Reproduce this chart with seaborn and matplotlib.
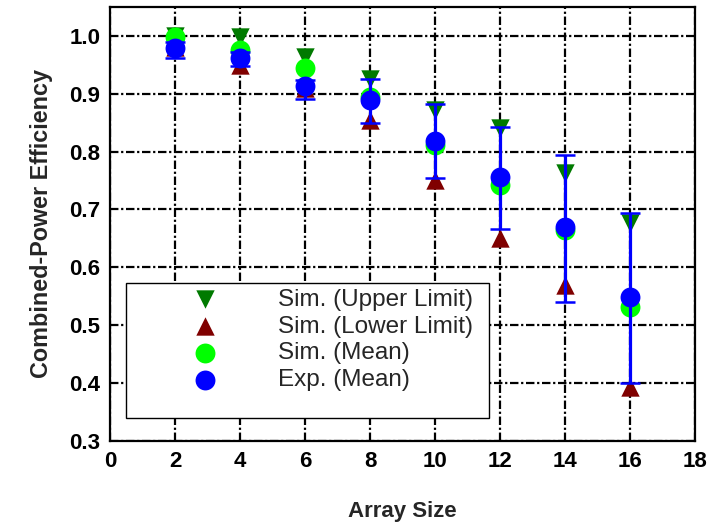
import matplotlib
matplotlib.use("Agg")
import matplotlib.pyplot as plt
import seaborn as sns
import pandas as pd
from matplotlib.patches import Rectangle

array_size = [2, 4, 6, 8, 10, 12, 14, 16]
sim_upper = [1.000, 0.997, 0.964, 0.926, 0.872, 0.841, 0.763, 0.676]
sim_lower = [0.980, 0.950, 0.910, 0.855, 0.751, 0.650, 0.569, 0.393]
sim_mean = [0.998, 0.976, 0.945, 0.894, 0.811, 0.742, 0.664, 0.531]
exp_mean = [0.979, 0.962, 0.913, 0.889, 0.818, 0.756, 0.670, 0.548]
exp_low = [0.962, 0.947, 0.891, 0.850, 0.754, 0.666, 0.540, 0.400]
exp_high = [0.990, 0.972, 0.924, 0.926, 0.882, 0.843, 0.794, 0.694]

labels = ["Sim. (Upper Limit)", "Sim. (Lower Limit)", "Sim. (Mean)", "Exp. (Mean)"]
x_ticks = [0, 2, 4, 6, 8, 10, 12, 14, 16, 18]
y_ticks = [0.3, 0.4, 0.5, 0.6, 0.7, 0.8, 0.9, 1.0]

sns.set_style("white")
plt.rcParams["font.family"] = ["Liberation Sans", "DejaVu Sans"]

fig = plt.figure(figsize=(7.1, 5.22), dpi=100)
ax = fig.add_axes([0.155, 0.155, 0.824, 0.832])

df = pd.DataFrame({"x": array_size, "up": sim_upper, "lo": sim_lower,
                   "sm": sim_mean, "em": exp_mean})

sns.scatterplot(data=df, x="x", y="lo", marker="^", s=175, color="#800000",
                linewidth=0, ax=ax, zorder=3, label=labels[1])
sns.scatterplot(data=df, x="x", y="up", marker="v", s=175, color="#007a00",
                linewidth=0, ax=ax, zorder=3, label=labels[0])
sns.scatterplot(data=df, x="x", y="sm", marker="o", s=205, color="#00ff00",
                linewidth=0, ax=ax, zorder=4, label=labels[2])
yerr = [[m - l for m, l in zip(exp_mean, exp_low)],
        [h - m for m, h in zip(exp_mean, exp_high)]]
ax.errorbar(array_size, exp_mean, yerr=yerr, fmt="none", ecolor="#0000ff",
            elinewidth=2.3, capsize=7, capthick=1.8, zorder=5)
sns.scatterplot(data=df, x="x", y="em", marker="o", s=205, color="#0000ff",
                linewidth=0, ax=ax, zorder=6, label=labels[3])

ax.set_xlim(0, 18)
ax.set_ylim(0.3, 1.05)
ax.set_xticks(x_ticks)
ax.set_yticks(y_ticks)
ax.set_xticklabels([str(v) for v in x_ticks])
ax.set_yticklabels([f"{v:.1f}" for v in y_ticks])
ax.tick_params(axis="both", length=0, labelsize=16, colors="black")
ax.tick_params(axis="x", pad=7)
ax.tick_params(axis="y", pad=7)
for t in ax.get_xticklabels() + ax.get_yticklabels():
    t.set_fontweight("bold")

ax.grid(True, color="black", linewidth=1.6, linestyle=(0, (3.8, 1.2, 1.0, 1.2)), zorder=1)
ax.set_axisbelow(True)
for s in ax.spines.values():
    s.set_visible(True)
    s.set_color("black")
    s.set_linewidth(1.6)
    s.set_zorder(7)

ax.set_xlabel("Array Size", fontsize=16, fontweight="bold", labelpad=21)
ax.set_ylabel("Combined-Power Efficiency", fontsize=16.8, fontweight="bold", labelpad=12)

rect = Rectangle((0.0274, 0.053), 0.6205, 0.311, transform=ax.transAxes,
                 facecolor="white", edgecolor="black", linewidth=1.0, zorder=8)
ax.add_patch(rect)

h, l = ax.get_legend_handles_labels()
order = [l.index(lab) for lab in labels]
leg = ax.legend([h[i] for i in order], [l[i] for i in order],
                loc="upper left", bbox_to_anchor=(0.121, 0.351),
                frameon=False, fontsize=17.5, labelspacing=0.2,
                handlelength=2.0, handletextpad=2.0, borderpad=0.0,
                borderaxespad=0.0, markerscale=1.0)
leg.set_zorder(9)

fig.savefig("out.png", dpi=100)
